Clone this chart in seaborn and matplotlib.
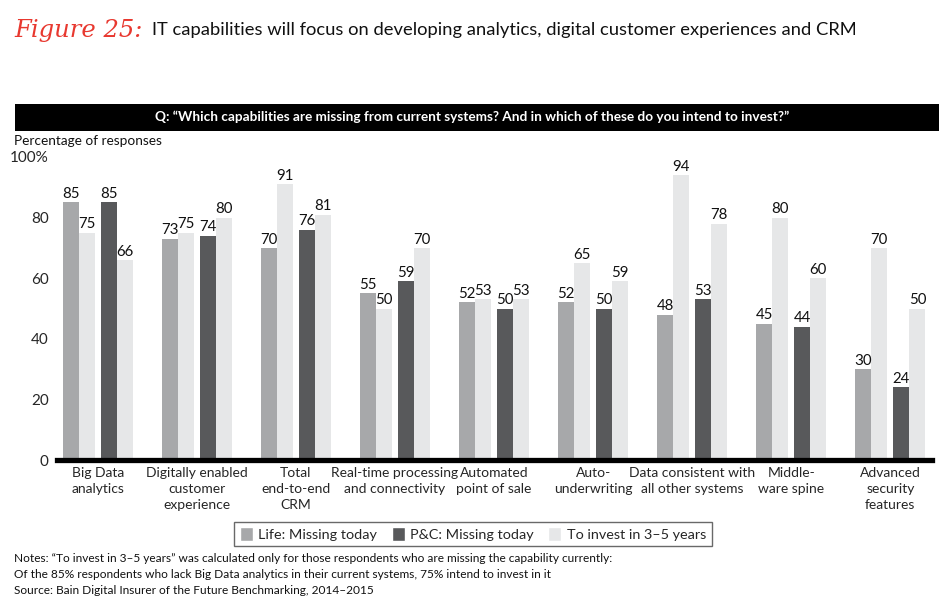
import matplotlib
matplotlib.use("Agg")
import matplotlib.pyplot as plt
from matplotlib.patches import Patch, Rectangle
import seaborn as sns
import pandas as pd

categories = ["Big Data\nanalytics", "Digitally enabled\ncustomer\nexperience", "Total\nend-to-end\nCRM",
              "Real-time processing\nand connectivity", "Automated\npoint of sale", "Auto-\nunderwriting",
              "Data consistent with\nall other systems", "Middle-\nware spine", "Advanced\nsecurity\nfeatures"]
life_missing = [85, 73, 70, 55, 52, 52, 48, 45, 30]
life_invest = [75, 75, 91, 50, 53, 65, 94, 80, 70]
pc_missing = [85, 74, 76, 59, 50, 50, 53, 44, 24]
pc_invest = [66, 80, 81, 70, 53, 59, 78, 60, 50]
series_names = ["Life: Missing today", "Life: To invest", "P&C: Missing today", "P&C: To invest"]
legend_labels = ["Life: Missing today", "P&C: Missing today", "To invest in 3\u20135 years"]
yticks = [0, 20, 40, 60, 80, 100]
ytick_labels = ["0", "20", "40", "60", "80", "100%"]

rows = []
for vals, name in zip([life_missing, life_invest, pc_missing, pc_invest], series_names):
    for c, v in zip(categories, vals):
        rows.append({"category": c, "series": name, "value": v})
df = pd.DataFrame(rows)

sns.set_style("white")
plt.rcParams["font.family"] = ["Lato", "DejaVu Sans"]

c_life = "#a7a8aa"
c_pc = "#58595b"
c_inv = "#e6e7e8"
palette = {series_names[0]: c_life, series_names[1]: c_inv, series_names[2]: c_pc, series_names[3]: c_inv}

fig = plt.figure(figsize=(9.5, 6.08), dpi=100)
ax = fig.add_axes([57/950, 148/608, (932-57)/950, (460-157)/608])

sns.barplot(data=df, x="category", y="value", hue="series", hue_order=series_names,
            palette=palette, width=0.648, dodge=True, legend=False, ax=ax, saturation=1)

shift = 0.03
for i, cont in enumerate(ax.containers):
    d = -shift if i < 2 else shift
    for p in cont:
        p.set_x(p.get_x() + d)
        p.set_linewidth(0)
    ax.bar_label(cont, fmt="%d", padding=1, fontsize=10.8, color="#111111", clip_on=False)

ax.set_xlim(-0.41, 8.42)
ax.set_ylim(0, 100)
ax.set_yticks(yticks)
ax.set_yticklabels(ytick_labels, fontsize=11)
ax.set_xlabel("")
ax.set_ylabel("")
ax.tick_params(axis="both", length=0)
ax.tick_params(axis="y", pad=6)
ax.tick_params(axis="x", pad=5, labelsize=10)
for lbl in ax.get_xticklabels():
    lbl.set_linespacing(1.4)
for s in ["top", "right", "left"]:
    ax.spines[s].set_visible(False)
ax.spines["bottom"].set_linewidth(3.8)
ax.spines["bottom"].set_color("black")
ax.spines["bottom"].set_zorder(5)

# Title
fig.text(14/950, 1 - 30/608, "Figure 25:", color="#e8382f", fontsize=17.5, style="italic",
         va="center", ha="left", family=["DejaVu Serif"])
fig.text(152/950, 1 - 30/608, "IT capabilities will focus on developing analytics, digital customer experiences and CRM",
         fontsize=13.2, va="center", ha="left", color="#111111")

# Banner
fig.patches.append(Rectangle((15/950, 1 - 131/608), (939-15)/950, 27/608, transform=fig.transFigure,
                             facecolor="black", edgecolor="none"))
fig.text(472/950, 1 - 117/608, "Q: \u201cWhich capabilities are missing from current systems? And in which of these do you intend to invest?\u201d",
         color="white", fontsize=9.8, fontweight="bold", ha="center", va="center")

fig.text(14/950, 1 - 141/608, "Percentage of responses", fontsize=9.8, va="center", ha="left", color="#111111")

# Legend
handles = [Patch(facecolor=c_life), Patch(facecolor=c_pc), Patch(facecolor=c_inv)]
leg = fig.legend(handles, legend_labels, loc="center", bbox_to_anchor=(473/950, 1 - 534/608), ncol=3,
                 fontsize=10.4, frameon=True, fancybox=False, handlelength=0.9, handleheight=1.1,
                 handletextpad=0.4, columnspacing=1.0, borderpad=0.35, borderaxespad=0)
leg.get_frame().set_edgecolor("#444444")
leg.get_frame().set_linewidth(1.0)

notes = ["Notes: \u201cTo invest in 3\u20135 years\u201d was calculated only for those respondents who are missing the capability currently:",
         "Of the 85% respondents who lack Big Data analytics in their current systems, 75% intend to invest in it",
         "Source: Bain Digital Insurer of the Future Benchmarking, 2014\u20132015"]
for i, n in enumerate(notes):
    fig.text(14/950, 1 - (559 + 16*i)/608, n, fontsize=8.6, va="center", ha="left", color="#111111")

fig.savefig("out.png", dpi=100)
